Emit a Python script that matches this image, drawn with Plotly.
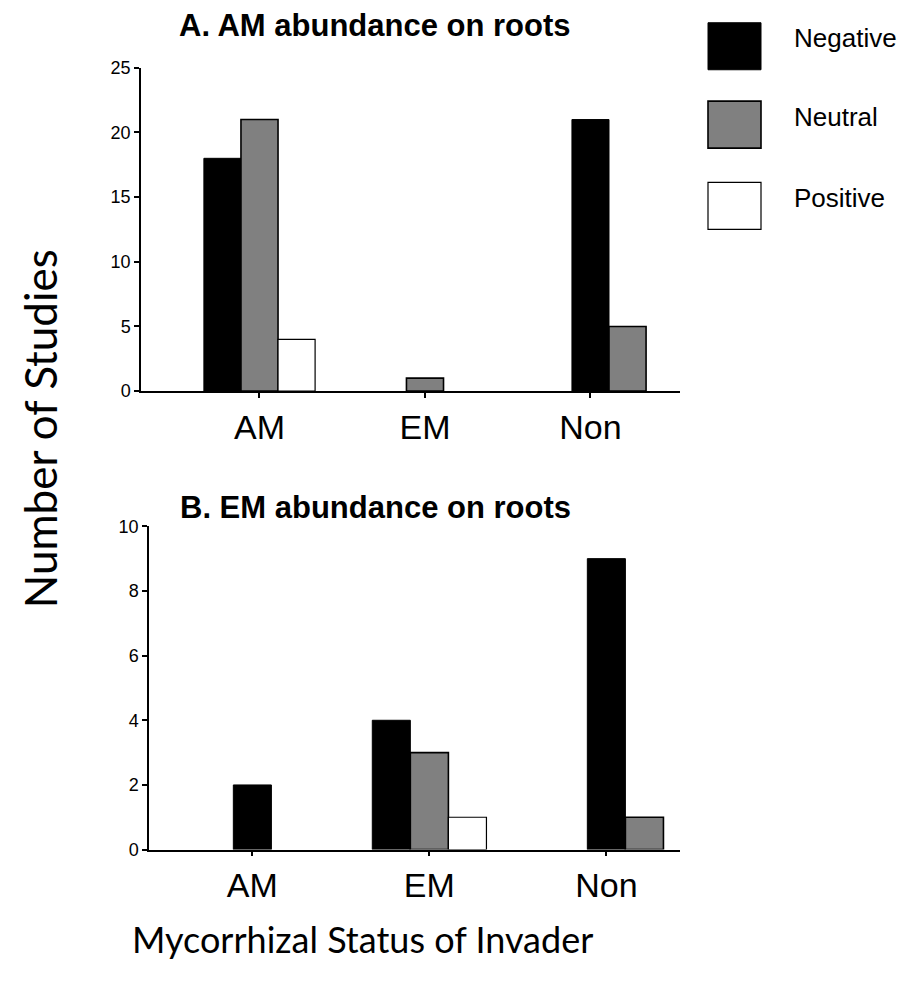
import plotly.graph_objects as go

categories = ["AM", "EM", "Non"]
series_names = ["Negative", "Neutral", "Positive"]
panel_a_negative = [18, 0, 21]
panel_a_neutral = [21, 1, 5]
panel_a_positive = [4, 0, 0]
panel_b_negative = [2, 4, 9]
panel_b_neutral = [0, 3, 1]
panel_b_positive = [0, 1, 0]
panel_titles = ["A. AM abundance on roots", "B. EM abundance on roots"]
y_ticks_a = [0, 5, 10, 15, 20, 25]
y_ticks_b = [0, 2, 4, 6, 8, 10]

fills = ["#000000", "#808080", "#ffffff"]
line_w = [1, 1.6, 1.2]

W, H = 923, 985
fig = go.Figure()


def px_x(a, b):
    return [a / W, b / W]


def px_y(top, bottom):
    return [1 - bottom / H, 1 - top / H]


def add_panel(values, xaxis, yaxis, width):
    n_cat = len(categories)
    for s, vals in enumerate(values):
        offs, ys = [], []
        for c in range(n_cat):
            nz = [k for k in range(len(values)) if values[k][c] > 0]
            n = len(nz)
            if vals[c] > 0:
                i = nz.index(s)
                offs.append((i - (n - 1) // 2 - 0.5) * width)
                ys.append(vals[c])
            else:
                offs.append(0)
                ys.append(None)
        fig.add_trace(go.Bar(
            x=categories, y=ys, name=series_names[s], offset=offs, width=width,
            marker=dict(color=fills[s], line=dict(color="#000000", width=line_w[s])),
            xaxis=xaxis, yaxis=yaxis, showlegend=False,
        ))


add_panel([panel_a_negative, panel_a_neutral, panel_a_positive], "x", "y", 0.224)
add_panel([panel_b_negative, panel_b_neutral, panel_b_positive], "x2", "y2", 0.215)

axis_common = dict(showline=True, linecolor="#000000", linewidth=1.5, ticks="outside",
                   ticklen=5, tickwidth=1.5, tickcolor="#000000", showgrid=False,
                   zeroline=False, mirror=False)

fig.update_layout(
    width=W, height=H, margin=dict(l=0, r=0, t=0, b=0),
    plot_bgcolor="white", paper_bgcolor="white", barmode="overlay",
    font=dict(family="Arial, Liberation Sans", color="#000000"),
    xaxis=dict(domain=px_x(141, 680), anchor="y", type="category",
               range=[-0.716, 2.541], tickfont=dict(size=34), **axis_common),
    yaxis=dict(domain=px_y(59, 389), anchor="x", range=[0, 25], tickvals=y_ticks_a,
               tickfont=dict(size=18), **axis_common),
    xaxis2=dict(domain=px_x(149, 680), anchor="y2", type="category",
                range=[-0.584, 2.416], tickfont=dict(size=34), **axis_common),
    yaxis2=dict(domain=px_y(527, 857), anchor="x2", range=[0, 10], tickvals=y_ticks_b,
                tickfont=dict(size=18), **axis_common),
)

# panel titles
for title, ypx in zip(panel_titles, [16, 508]):
    fig.add_annotation(text="<b>" + title + "</b>", x=375 / W, y=1 - ypx / H,
                       xref="paper", yref="paper", showarrow=False,
                       font=dict(size=31, family="Arial, Liberation Sans"),
                       xanchor="center", yanchor="middle")

# axis titles
fig.add_annotation(text="Number of Studies", x=40 / W, y=1 - 428 / H, xref="paper",
                   yref="paper", showarrow=False, textangle=-90,
                   font=dict(size=44, family="Lato"), xanchor="center", yanchor="middle")
fig.add_annotation(text="Mycorrhizal Status of Invader", x=362 / W, y=1 - 948 / H,
                   xref="paper", yref="paper", showarrow=False,
                   font=dict(size=36, family="Lato"), xanchor="center", yanchor="middle")

# legend
legend_tops = [13, 93, 176]
for name, fill, lw, top in zip(series_names, fills, line_w, legend_tops):
    fig.add_shape(type="rect", xref="paper", yref="paper",
                  x0=708 / W, x1=761 / W, y0=1 - (top + 48) / H, y1=1 - top / H,
                  fillcolor=fill, line=dict(color="#000000", width=lw))
    fig.add_annotation(text=name, x=792 / W, y=1 - (top + 16) / H, xref="paper",
                       yref="paper", showarrow=False, xanchor="left", yanchor="middle",
                       font=dict(size=26, family="Arial, Liberation Sans"))

fig.write_html("out.html")
